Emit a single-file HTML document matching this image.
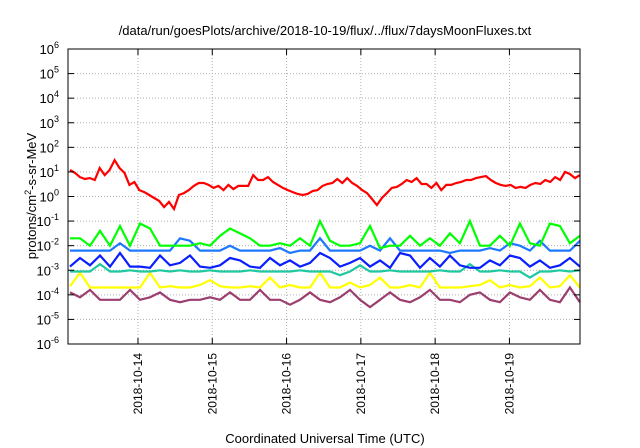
<!DOCTYPE html>
<html><head><meta charset="utf-8"><style>
body{margin:0;background:#fff;}
svg{display:block;font-family:"Liberation Sans",sans-serif;}
</style></head><body>
<svg id="chart" width="640" height="448" viewBox="0 0 640 448">
<text x="325" y="35" font-size="13" text-anchor="middle">/data/run/goesPlots/archive/2018-10-19/flux/../flux/7daysMoonFluxes.txt</text>
<text x="325" y="443" font-size="13" text-anchor="middle">Coordinated Universal Time (UTC)</text>
<text transform="translate(36,196) rotate(-90)" font-size="13" text-anchor="middle">protons/cm<tspan dy="-5" font-size="9">2</tspan><tspan dy="5">-s-sr-MeV</tspan></text>
<g id="grid"></g><g id="series"></g><g id="axes"></g>
</svg>
<script>
const dayTicks = [14,15,16,17,18,19];
const dayLabels = ["2018-10-14","2018-10-15","2018-10-16","2018-10-17","2018-10-18","2018-10-19"];
const decadeTicks = [-6,-5,-4,-3,-2,-1,0,1,2,3,4,5,6];
const startDay = 13.085;
const spanDays = 6.864;
const redExp = [1.08,0.96,0.79,0.71,0.75,0.67,1.16,0.87,1.08,1.48,1.16,0.96,0.47,0.59,0.26,0.18,0.06,-0.06,-0.18,-0.43,-0.22,-0.51,0.06,0.14,0.26,0.43,0.55,0.55,0.47,0.35,0.43,0.26,0.47,0.30,0.43,0.43,0.43,0.87,0.67,0.67,0.79,0.59,0.47,0.35,0.26,0.18,0.10,0.06,0.10,0.22,0.26,0.43,0.51,0.55,0.71,0.55,0.75,0.55,0.43,0.26,0.14,-0.10,-0.35,-0.06,0.14,0.35,0.39,0.51,0.67,0.59,0.75,0.51,0.51,0.35,0.55,0.26,0.47,0.47,0.55,0.59,0.67,0.67,0.75,0.79,0.83,0.67,0.55,0.47,0.43,0.47,0.35,0.39,0.35,0.47,0.55,0.51,0.67,0.59,0.79,0.67,1.0,0.91,0.75,0.87];
const greenExp = [-1.7,-1.7,-2,-1.4,-2,-1.2,-2,-1.1,-1.3,-2,-2,-2,-2,-1.9,-2,-1.6,-1.3,-1.5,-1.7,-2,-2,-1.9,-2,-1.7,-2,-1.0,-1.8,-2,-2,-1.9,-1.2,-2.1,-2,-2,-1.6,-2,-1.7,-2,-1.5,-1.9,-1.0,-2,-2,-1.6,-2,-1.1,-1.9,-2,-1.1,-1.2,-1.9,-1.6];
const lightBlueExp = [-2.2,-2.2,-2.2,-2.2,-2.2,-1.9,-2.2,-2.2,-2.2,-2.2,-2.2,-1.7,-1.8,-2.2,-2.2,-2.2,-2.0,-2.2,-2.2,-2.2,-2.2,-2.1,-2.3,-2.2,-2.2,-1.7,-2.2,-2.2,-2.2,-2.2,-2.0,-2.2,-1.7,-2.2,-2.2,-2.2,-2.2,-2.2,-2.3,-2.2,-2.2,-2.2,-2.1,-2.2,-1.9,-2.0,-2.2,-1.8,-2.2,-2.2,-2.2,-1.8];
const blueExp = [-2.85,-2.5,-2.8,-2.4,-2.85,-2.3,-2.85,-2.85,-2.9,-2.4,-2.8,-2.7,-2.4,-2.85,-2.9,-2.8,-2.5,-2.6,-2.85,-2.9,-2.5,-2.8,-2.6,-2.85,-2.7,-2.3,-2.5,-2.85,-2.7,-2.5,-2.85,-2.6,-2.9,-2.3,-2.4,-2.9,-2.5,-2.85,-2.4,-2.8,-2.9,-2.9,-2.6,-2.8,-2.4,-2.5,-2.85,-2.6,-2.9,-2.8,-2.5,-2.85];
const tealExp = [-3.05,-3.05,-3.05,-2.75,-3.05,-3.05,-3.0,-3.05,-3.05,-3.0,-3.05,-3.0,-3.05,-3.05,-3.0,-3.05,-3.05,-3.05,-3.0,-3.05,-3.05,-3.05,-3.05,-3.0,-3.05,-3.05,-3.05,-3.2,-3.05,-2.8,-3.05,-3.05,-3.0,-3.05,-3.05,-3.05,-3.05,-3.0,-3.05,-3.05,-2.75,-3.05,-3.05,-3.0,-3.05,-3.05,-3.3,-3.05,-3.05,-3.0,-3.05,-3.0];
const yellowExp = [-3.65,-3.1,-3.7,-3.7,-3.7,-3.7,-3.7,-3.7,-3.1,-3.7,-3.65,-3.7,-3.7,-3.6,-3.4,-3.65,-3.7,-3.7,-3.65,-3.7,-3.3,-3.7,-3.6,-3.7,-3.7,-3.1,-3.7,-3.7,-3.5,-3.7,-3.6,-3.3,-3.7,-3.7,-3.6,-3.7,-3.1,-3.7,-3.7,-3.7,-3.65,-3.6,-3.4,-3.7,-3.6,-3.7,-3.65,-3.3,-3.7,-3.65,-3.2,-3.7];
const purpleExp = [-3.9,-4.1,-3.8,-4.2,-4.2,-4.2,-3.8,-4.2,-4.1,-3.9,-4.2,-4.3,-4.2,-4.2,-4.1,-4.2,-3.9,-4.2,-4.2,-3.8,-4.2,-4.2,-4.4,-4.2,-3.9,-4.2,-4.3,-4.1,-3.8,-4.2,-4.5,-4.2,-3.9,-4.2,-4.3,-4.1,-3.8,-4.2,-4.2,-4.3,-4.0,-3.9,-4.2,-4.3,-3.9,-4.1,-4.2,-3.8,-4.2,-4.3,-3.7,-4.3];
const X0=68,X1=580,Y0=49,Y1=344,DMIN=13.058,DMAX=19.95;
function xs(d){return X0+(d-DMIN)/(DMAX-DMIN)*(X1-X0);}
function ys(e){return Y1-(e+6)/12*(Y1-Y0);}
const NS="http://www.w3.org/2000/svg";
function mk(tag,attrs,parent){const el=document.createElementNS(NS,tag);for(const k in attrs)el.setAttribute(k,attrs[k]);parent.appendChild(el);return el;}
const grid=document.getElementById('grid'),axes=document.getElementById('axes'),ser=document.getElementById('series');
decadeTicks.forEach(e=>{const y=ys(e);
 if(e>-6&&e<6){const g=mk('line',{x1:X0,x2:X1,y1:y,y2:y,stroke:'#b0b0b0','stroke-dasharray':'1,2','stroke-width':1},grid);
 
 }
 mk('line',{x1:X0,x2:X0+6,y1:y,y2:y,stroke:'#000'},axes);mk('line',{x1:X1,x2:X1-6,y1:y,y2:y,stroke:'#000'},axes);
 const t=mk('text',{x:X0-9,y:y+5,'font-size':13,'text-anchor':'end'},axes);
 
 
 t.innerHTML='10<tspan dy="-6" font-size="9">'+e+'</tspan>';
});
dayTicks.forEach((d,i)=>{const x=xs(d);
 const g=mk('line',{x1:x,x2:x,y1:Y0,y2:Y1,stroke:'#b0b0b0','stroke-dasharray':'1,2'},grid);
 
 
 mk('line',{x1:x,x2:x,y1:Y1,y2:Y1-6,stroke:'#000'},axes);mk('line',{x1:x,x2:x,y1:Y0,y2:Y0+6,stroke:'#000'},axes);
 const t=mk('text',{transform:'translate('+(x+4)+','+(Y1+9)+') rotate(-90)','font-size':12,'text-anchor':'end'},axes);
 
 
 t.textContent=dayLabels[i];
});
const fr=mk('rect',{x:X0,y:Y0,width:X1-X0,height:Y1-Y0,fill:'none',stroke:'#000','stroke-width':1},axes);


const all=[[purpleExp,'#9a3f6e','purple-series'],[yellowExp,'#ffff00','yellow-series'],[tealExp,'#20c8a0','teal-series'],[blueExp,'#0a1eff','blue-series'],[lightBlueExp,'#1e78ff','light-blue-series'],[greenExp,'#00ff00','green-series'],[redExp,'#ff0000','red-series']];
all.forEach(([arr,col,name])=>{
 const step=spanDays/(arr.length-1);
 const pts=arr.map((e,i)=>xs(startDay+i*step).toFixed(1)+','+ys(e).toFixed(1)).join(' ');
 const p=mk('polyline',{points:pts,fill:'none',stroke:col,'stroke-width':2.2,'stroke-linejoin':'miter'},ser);
 
 
});
</script>
</body></html>
